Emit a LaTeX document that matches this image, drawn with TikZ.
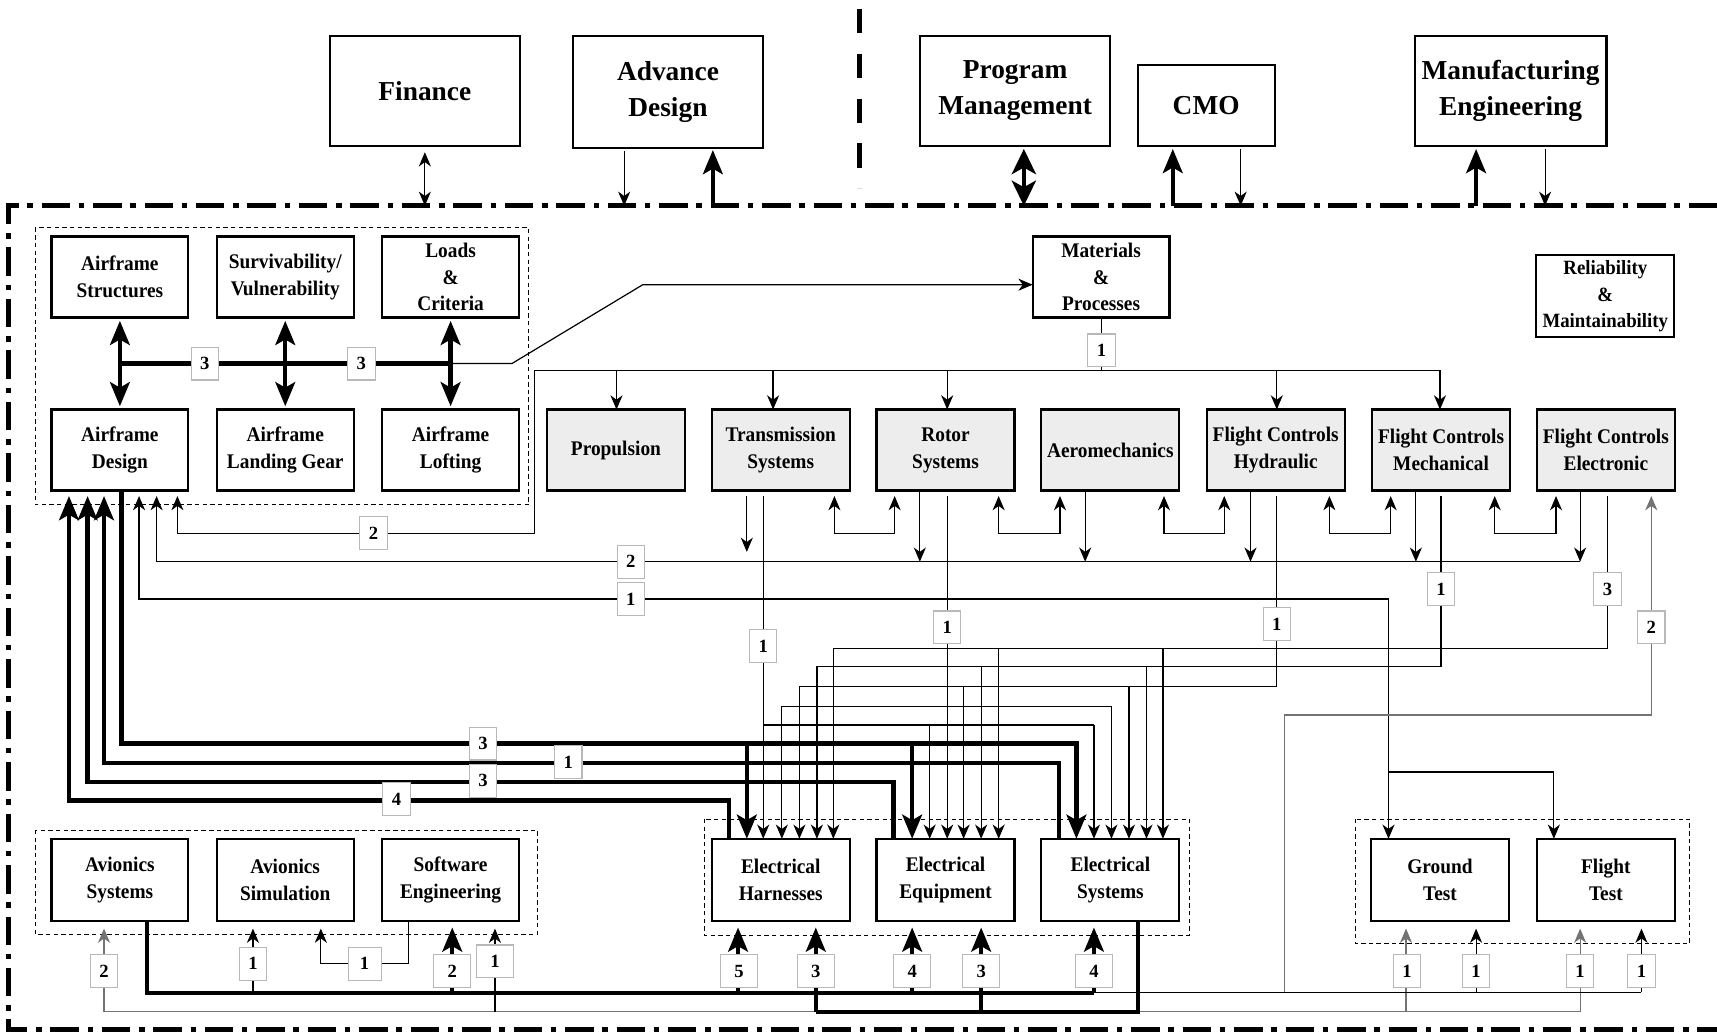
\documentclass[tikz,border=0pt]{standalone}
\usepackage{fontspec}
\setmainfont{Liberation Serif}
\newfontfamily\condserif{Liberation Serif}[FakeStretch=0.93]
\usetikzlibrary{arrows.meta,calc}

\tikzset{
  box/.style={draw, line width=2pt, inner sep=0pt, outer sep=0pt, align=center,
    minimum width=125pt, minimum height=74pt,
    font=\condserif\bfseries\fontsize{19}{24.5}\selectfont},
  subbox/.style={box, fill=black!7, minimum width=126pt},
  orgbox/.style={box, minimum width=174pt, minimum height=100pt,
    font=\rmfamily\bfseries\fontsize{25}{33}\selectfont},
  grp/.style={draw, line width=0.9pt, dash pattern=on 4pt off 3pt},
  lbl/.style={draw=black!28, fill=white, line width=1pt, inner sep=0pt,
    minimum width=25pt, minimum height=30pt,
    font=\rmfamily\bfseries\fontsize{17}{17}\selectfont},
  wlbl/.style={lbl, minimum width=34pt},
  wire/.style={line width=1.1pt},
  gwire/.style={line width=1.1pt, draw=black!55},
  bus/.style={line width=4pt},
  arr/.style={wire, -{Stealth[length=13pt,width=11pt,inset=4pt]}},
  garr/.style={gwire, -{Stealth[length=13pt,width=11pt,inset=4pt]}},
  rarr/.style={wire, {Stealth[length=13pt,width=11pt,inset=4pt]}-},
  darr/.style={wire, {Stealth[length=13pt,width=11pt,inset=4pt]}-{Stealth[length=13pt,width=11pt,inset=4pt]}},
  barr/.style={bus, -{Stealth[length=22pt,width=18pt,inset=5pt]}},
  rbarr/.style={bus, {Stealth[length=22pt,width=18pt,inset=5pt]}-},
  dbarr/.style={bus, {Stealth[length=22pt,width=18pt,inset=5pt]}-{Stealth[length=22pt,width=18pt,inset=5pt]}},
  frame/.style={line width=4.5pt, dash pattern=on 26pt off 8pt on 5pt off 8pt},
  divider/.style={line width=4.5pt, dash pattern=on 22pt off 19pt},
}

\begin{document}
\begin{tikzpicture}[x=1pt, y=-1pt]
\useasboundingbox (0,0) rectangle (1568,944);

% ---------- outer organisations ----------
\node[orgbox] (fin) at (388,83) {Finance};
\node[orgbox, minimum height=102pt] (adv) at (610,84) {Advance\\Design};
\node[orgbox] (pm) at (927,83) {Program\\Management};
\node[orgbox, minimum width=125pt, minimum height=74pt] (cmo) at (1101.5,96) {CMO};
\node[orgbox, minimum width=175pt] (mfg) at (1379.5,83) {Manufacturing\\Engineering};

% ---------- frame of the engineering department ----------
\coordinate (bt) at (0,188);
\draw[divider] (785,8) -- (785,172);
\draw[frame] (1568,188) -- (8,188) -- (8,940) -- (1568,940);

% ---------- groups ----------
\draw[grp] (32,208) rectangle (483,461);
\draw[grp] (32,758) rectangle (491,853);
\draw[grp] (643,748) rectangle (1086,854);
\draw[grp] (1238,748) rectangle (1543,862);

% ---------- airframe ----------
\node[box] (as) at (109.5,253) {Airframe\\Structures};
\node[box] (sv) at (260.5,253) {Survivability/\\Vulnerability};
\node[box] (lc) at (411.5,253) {Loads\\\&\\Criteria};
\node[box] (ad) at (109.5,411) {Airframe\\Design};
\node[box] (alg) at (260.5,411) {Airframe\\Landing Gear};
\node[box] (al) at (411.5,411) {Airframe\\Lofting};

\node[box] (mp) at (1005.5,253) {Materials\\\&\\Processes};
\node[box, minimum width=126pt, minimum height=75pt, font=\condserif\bfseries\fontsize{18.5}{24.5}\selectfont] (rm) at (1466,270.5) {Reliability\\\&\\Maintainability};

% ---------- subsystems ----------
\node[subbox] (prop) at (562.5,411) {Propulsion};
\node[subbox] (tran) at (713,411) {Transmission\\Systems};
\node[subbox] (rot) at (863.5,411) {Rotor\\Systems};
\node[subbox] (aero) at (1014,411) {Aeromechanics};
\node[subbox] (fch) at (1165,411) {Flight Controls\\Hydraulic};
\node[subbox] (fcm) at (1316,411) {Flight Controls\\Mechanical};
\node[subbox] (fce) at (1466.5,411) {Flight Controls\\Electronic};

% ---------- bottom row ----------
\node[box, minimum height=75pt] (avs) at (109.5,803.5) {Avionics\\Systems};
\node[box, minimum height=75pt] (avsim) at (260.5,803.5) {Avionics\\Simulation};
\node[box, minimum height=75pt] (swe) at (411.5,803.5) {Software\\Engineering};
\node[box, minimum width=126pt, minimum height=75pt] (eh) at (713,803.5) {Electrical\\Harnesses};
\node[box, minimum width=126pt, minimum height=75pt] (eeq) at (863.5,803.5) {Electrical\\Equipment};
\node[box, minimum width=126pt, minimum height=75pt] (esys) at (1014,803.5) {Electrical\\Systems};
\node[box, minimum width=126pt, minimum height=75pt] (gt) at (1315,803.5) {Ground\\Test};
\node[box, minimum width=126pt, minimum height=75pt] (ft) at (1466.5,803.5) {Flight\\Test};

% ---------- links to the outer organisations ----------
\draw[darr, shorten <=6pt] (fin.south) -- (fin.south |- bt);
\draw[arr, shorten <=3pt] (adv.south -| 570,0) -- (570,0 |- bt);
\draw[barr, shorten >=2pt] (651,0 |- bt) -- (adv.south -| 651,0);
\draw[bus, {Stealth[length=23pt,width=22pt,inset=6pt]}-{Stealth[length=23pt,width=22pt,inset=6pt]}, shorten <=3pt] (pm.south -| 935,0) -- (935,0 |- bt);
\draw[barr, shorten >=3pt] (1071,0 |- bt) -- (cmo.south -| 1071,0);
\draw[arr, shorten <=3pt] (cmo.south -| 1133,0) -- (1133,0 |- bt);
\draw[barr, shorten >=3pt] (1348,0 |- bt) -- (mfg.south -| 1348,0);
\draw[arr, shorten <=3pt] (mfg.south -| 1411,0) -- (1411,0 |- bt);

% ---------- airframe internal links ----------
\foreach \a/\b in {as/ad, sv/alg, lc/al}
  \draw[dbarr, shorten <=3pt, shorten >=3pt] (\a.south) -- (\b.north);
\draw[bus] ($(as.south)!0.5!(ad.north)$) -- ($(lc.south)!0.5!(al.north)$);
\draw[arr] ($(lc.south)!0.5!(al.north)$) -- ++(56,0) -- (587,260) -- ([yshift=-7pt]mp.west);

% ---------- materials distribution ----------
\draw[wire] (mp.south -| 1006,0) -- (1006,338);
\draw[wire] (488,338) -- (1315,338);
\foreach \n/\x in {prop/563, tran/706, rot/865, fch/1166, fcm/1315}
  \draw[arr] (\x,338) -- (\n.north -| \x,0);
\draw[arr, shorten >=5pt] (488,338) -- (488,487) -- (162,487) -- (ad.south -| 162,0);

% ---------- subsystem feedback to airframe design ----------
\draw[arr, shorten >=5pt] (1443,513) -- (143,513) -- (ad.south -| 143,0);
\foreach \n/\x in {rot/840, aero/991, fch/1142, fcm/1293, fce/1443}
  \draw[arr] (\n.south -| \x,0) -- (\x,513);
\draw[arr, shorten <=5pt] (tran.south -| 682,0) -- (682,504);
\foreach \a/\b/\xa/\xb in {tran/rot/762/817, rot/aero/912/968, aero/fch/1063/1118, fch/fcm/1214/1270, fcm/fce/1365/1421}
  \draw[darr, shorten <=5pt, shorten >=5pt] (\a.south -| \xa,0) -- (\xa,487) -- (\xb,487) -- (\b.south -| \xb,0);

% ---------- airframe design to test ----------
\draw[darr, shorten <=5pt] (ad.south -| 127,0) -- (127,547) -- (1268,547) -- (gt.north -| 1268,0);
\draw[arr] (1268,705) -- (1419,705) -- (ft.north -| 1419,0);

% ---------- subsystems to electrical ----------
\draw[arr, shorten <=5pt] (tran.south -| 697,0) -- (eh.north -| 697,0);
\draw[wire] (697,662) -- (999,662);
\draw[arr] (849,662) -- (eeq.north -| 849,0);
\draw[arr] (999,662) -- (esys.north -| 999,0);

\draw[arr, shorten <=5pt] (rot.south -| 865,0) -- (eeq.north -| 865,0);
\draw[wire] (714,645) -- (1015,645);
\draw[arr] (714,645) -- (eh.north -| 714,0);
\draw[arr] (1015,645) -- (esys.north -| 1015,0);

\draw[arr, shorten <=5pt] (fch.south -| 1166,0) |- (730,627) -- (eh.north -| 730,0);
\draw[arr] (880,627) -- (eeq.north -| 880,0);
\draw[arr] (1031,627) -- (esys.north -| 1031,0);

\draw[arr, shorten <=5pt] (fcm.south -| 1316,0) |- (746,609) -- (eh.north -| 746,0);
\draw[arr] (896,609) -- (eeq.north -| 896,0);
\draw[arr] (1047,609) -- (esys.north -| 1047,0);

\draw[arr, shorten <=5pt] (fce.south -| 1468,0) |- (761,592) -- (eh.north -| 761,0);
\draw[arr] (912,592) -- (eeq.north -| 912,0);
\draw[arr] (1062,592) -- (esys.north -| 1062,0);

\draw[gwire, {Stealth[length=13pt,width=11pt,inset=4pt]}-, shorten <=5pt] (fce.south -| 1508,0) -- (1508,653) -- (1173,653) -- (1173,906);

% ---------- airframe design and electrical ----------
\draw[barr] (ad.south -| 111,0) |- (983,679) -- (esys.north -| 983,0);
\draw[barr] (682,679) -- (eh.north -| 682,0);
\draw[barr] (833,679) -- (eeq.north -| 833,0);
\draw[rbarr, shorten <=5pt] (ad.south -| 95,0) |- (967,697) -- (esys.north -| 967,0);
\draw[rbarr, shorten <=5pt] (ad.south -| 80,0) |- (816,714) -- (eeq.north -| 816,0);
\draw[rbarr, shorten <=5pt] (ad.south -| 63,0) |- (666,731) -- (eh.north -| 666,0);

% ---------- bottom buses ----------
\draw[gwire] (95,924) -- (1443,924);
\foreach \n/\x in {avs/95, gt/1284, ft/1443}
  \draw[garr, shorten >=7pt] (\x,924) -- (\n.south -| \x,0);
\draw[arr, shorten >=7pt] (452,924) -- (swe.south -| 452,0);
\draw[wire] (1000,906) -- (1499,906);
\foreach \n/\x in {gt/1348, ft/1499}
  \draw[arr, shorten >=7pt] (\x,906) -- (\n.south -| \x,0);

\draw[bus] (avs.south -| 134,0) |- (999,907);
\foreach \n/\x in {swe/413, eh/674, eeq/833, esys/999}
  \draw[barr, shorten >=6pt] (\x,907) -- (\n.south -| \x,0);
\draw[arr, shorten >=7pt] (231,907) -- (avsim.south -| 231,0);
\draw[bus] (esys.south -| 1039,0) |- (745,924);
\foreach \n/\x in {eh/745, eeq/896}
  \draw[barr, shorten >=6pt] (\x,924) -- (\n.south -| \x,0);
\draw[arr, shorten >=7pt] (swe.south -| 373,0) |- (293,880) -- (avsim.south -| 293,0);

% ---------- link weights ----------
\node[lbl] (w1) at (187,332) {3};
\node[lbl] (w2) at (330,332) {3};
\node[lbl] (w3) at (1006,320) {1};
\node[lbl] (w4) at (341,487) {2};
\node[lbl] (w5) at (576,513) {2};
\node[lbl] (w6) at (576,547) {1};
\node[lbl] (w7) at (697,590) {1};
\node[lbl] (w8) at (865,573) {1};
\node[lbl] (w9) at (1166,570) {1};
\node[lbl] (w10) at (1316,538) {1};
\node[lbl] (w11) at (1468,538) {3};
\node[lbl] (w12) at (1508,573) {2};
\node[lbl] (w13) at (441,679) {3};
\node[lbl] (w14) at (519,696) {1};
\node[lbl] (w15) at (441,713) {3};
\node[lbl] (w16) at (362,730) {4};
\node[lbl] (w17) at (95,887) {2};
\node[lbl] (w18) at (231,880) {1};
\node[lbl, minimum width=30pt] (w19) at (333,880) {1};
\node[wlbl] (w20) at (413,887) {2};
\node[wlbl] (w21) at (452,878) {1};
\node[wlbl] (w22) at (675,887) {5};
\node[wlbl] (w23) at (745,887) {3};
\node[wlbl] (w24) at (833,887) {4};
\node[wlbl] (w25) at (896,887) {3};
\node[wlbl] (w26) at (999,887) {4};
\node[lbl] (w27) at (1285,887) {1};
\node[lbl] (w28) at (1348,887) {1};
\node[lbl] (w29) at (1443,887) {1};
\node[lbl] (w30) at (1499,887) {1};
\end{tikzpicture}
\end{document}
